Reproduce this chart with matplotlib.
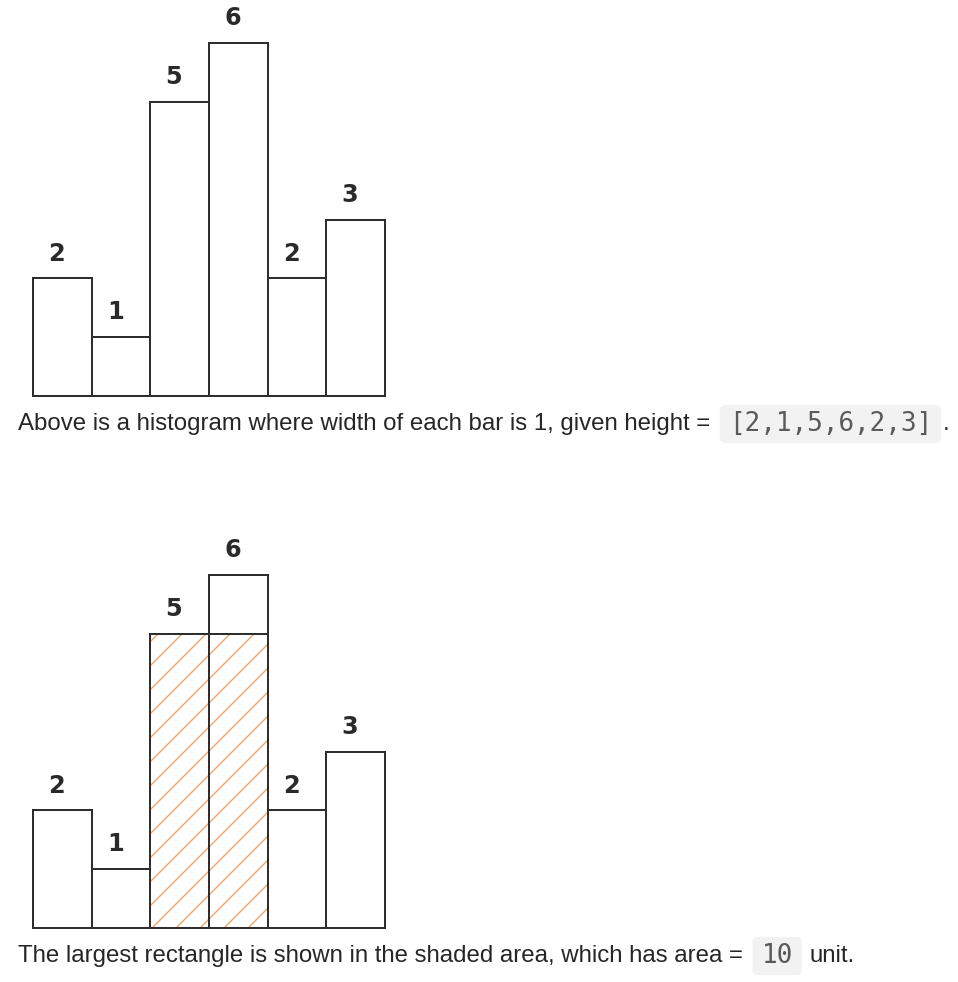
import matplotlib
matplotlib.use("Agg")
import matplotlib.pyplot as plt
from matplotlib.patches import FancyBboxPatch
from matplotlib.transforms import IdentityTransform

# ---- data ----
heights = [2, 1, 5, 6, 2, 3]
rect_start = 2      # index of first bar in largest rectangle
rect_width = 2      # number of bars
rect_height = 5     # height of largest rectangle
rect_area = 10
caption_top = "Above is a histogram where width of each bar is 1, given height = "
code_top = "[2,1,5,6,2,3]"
caption_bottom = "The largest rectangle is shown in the shaded area, which has area = "
code_bottom = "10"
unit_text = "unit."

W, H = 958, 982
DPI = 144
plt.rcParams['hatch.linewidth'] = 0.7
fig = plt.figure(figsize=(W / DPI, H / DPI), dpi=DPI)
fig.patch.set_facecolor("white")

EDGE = "#2e2e2e"
HATCH = "#f5a467"
LABEL = "#2a2a2a"
TXT = "#262626"
CODE = "#5a5a5a"
CODEBG = "#f2f2f2"


def make_axes(baseline_px, top_px):
    left = 33 / W
    width = 352 / W
    bottom = (H - baseline_px) / H
    height = (baseline_px - top_px) / H
    ax = fig.add_axes([left, bottom, width, height])
    ax.set_xlim(0, len(heights))
    ax.set_ylim(0, max(heights))
    ax.axis("off")
    return ax


def draw_bars(ax, shaded=False):
    xs = list(range(len(heights)))
    ax.bar(xs, heights, width=1, align="edge", facecolor="white",
           edgecolor="none", linewidth=0, clip_on=False, zorder=1)
    if shaded:
        ax.bar([rect_start], [rect_height], width=rect_width, align="edge",
               facecolor="none", edgecolor=HATCH, linewidth=0, hatch="//",
               clip_on=False, zorder=2)
    ax.bar(xs, heights, width=1, align="edge", facecolor="none",
           edgecolor=EDGE, linewidth=1.0, clip_on=False, zorder=3)
    if shaded:
        ax.bar([rect_start], [rect_height], width=rect_width, align="edge",
               facecolor="none", edgecolor=EDGE, linewidth=1.0,
               clip_on=False, zorder=3)
    for i, h in enumerate(heights):
        ax.text(i + 0.5 - 0.1, h + 0.42, str(h), ha="center", va="center",
                fontsize=12, fontweight="bold", family="DejaVu Sans",
                color=LABEL, clip_on=False)


ax1 = make_axes(396, 43)
draw_bars(ax1)
ax2 = make_axes(928, 575)
draw_bars(ax2, shaded=True)

fig.canvas.draw()
renderer = fig.canvas.get_renderer()
tr = IdentityTransform()


def caption_line(y_px, text, code, tail, tail_gap):
    yd = H - y_px
    t = fig.text(18, yd, text, transform=tr, fontsize=12,
                 family="Liberation Sans", color=TXT, va="center", ha="left")
    bb = t.get_window_extent(renderer)
    cx = bb.x1 + 12
    c = fig.text(cx, yd, code, transform=tr, fontsize=13,
                 family="DejaVu Sans Mono", color=CODE, va="center", ha="left",
                 zorder=3)
    cb = c.get_window_extent(renderer)
    box = FancyBboxPatch((cb.x0 - 9, yd - 19), (cb.x1 - cb.x0) + 18, 38,
                         boxstyle="round,pad=0,rounding_size=5",
                         transform=tr, facecolor=CODEBG, edgecolor="none",
                         zorder=1)
    fig.patches.append(box)
    fig.text(cb.x1 + 9 + tail_gap, yd, tail, transform=tr, fontsize=12,
             family="Liberation Sans", color=TXT, va="center", ha="left")


caption_line(424, caption_top, code_top, ".", 2)
caption_line(956, caption_bottom, code_bottom, unit_text, 8)

fig.savefig("out.png", dpi=DPI, facecolor="white")
